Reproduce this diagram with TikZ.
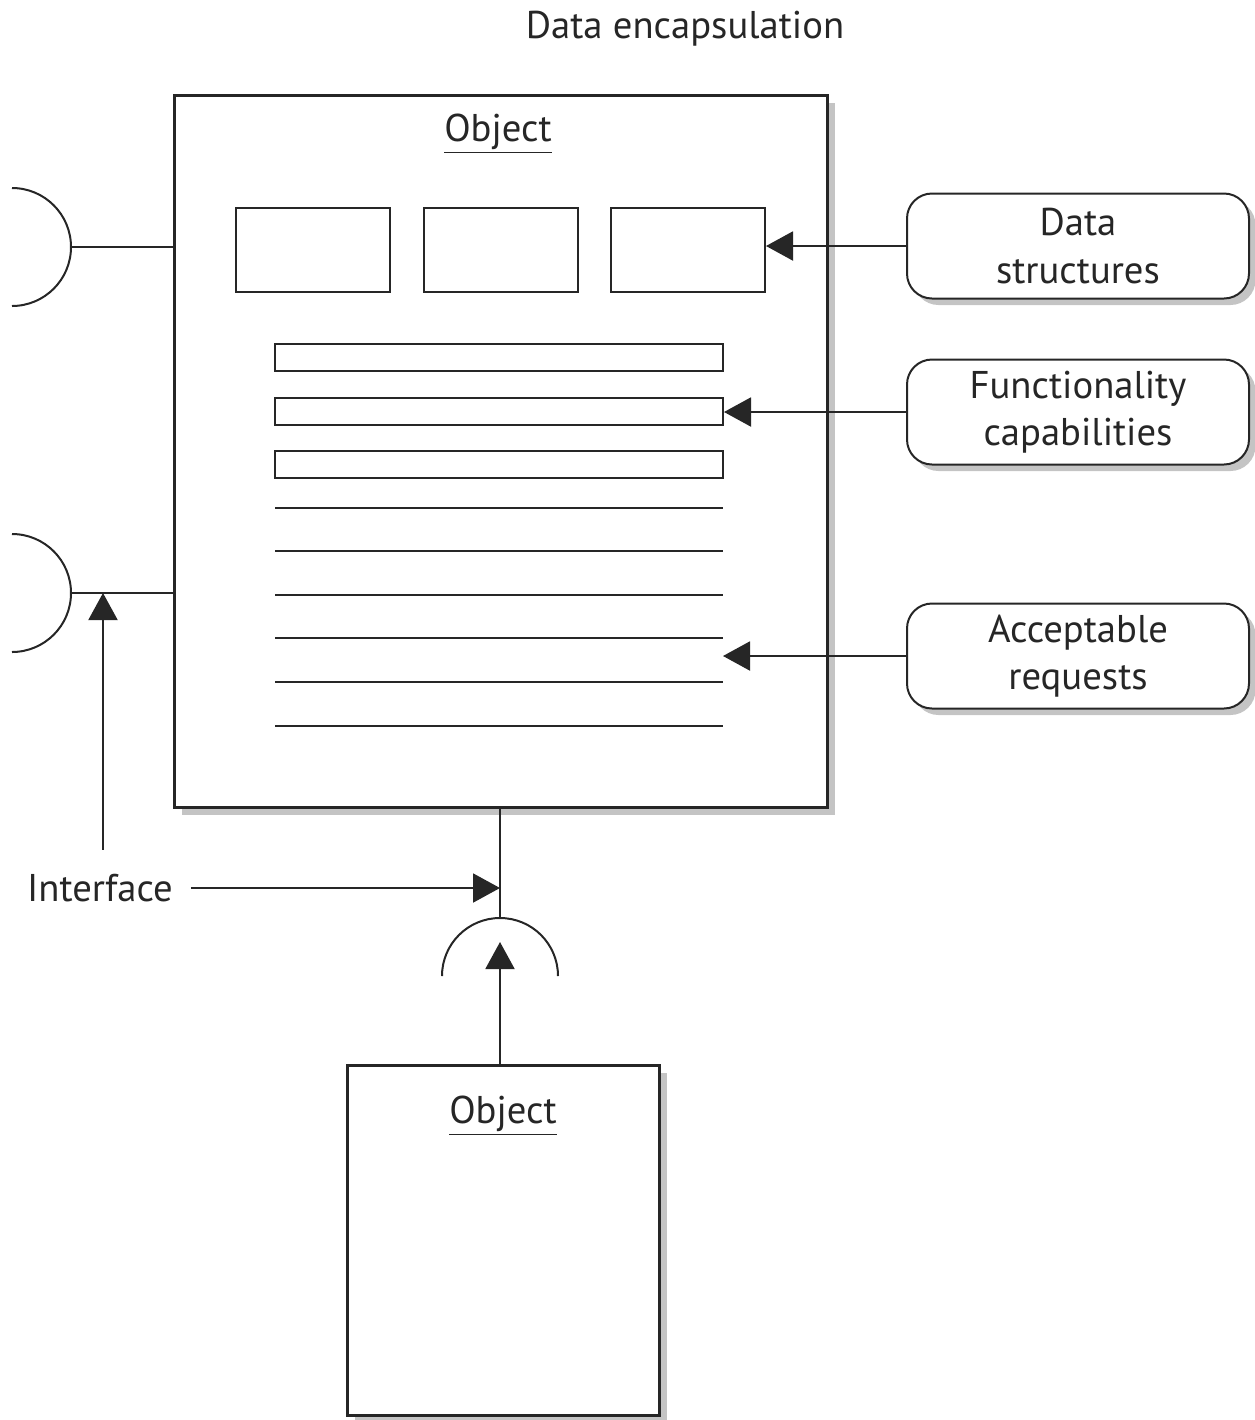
\documentclass[tikz,border=0pt]{standalone}
\usepackage{fontspec}
\setmainfont{PT Sans}
\usepackage{xcolor}
\usepackage{tikz}
\usetikzlibrary{positioning, arrows.meta, shadows}
\definecolor{ink}{HTML}{262626}
\definecolor{shade}{HTML}{c4c4c4}

\begin{document}
\begin{tikzpicture}[x=0.2mm, y=-0.2mm,
  every node/.style={font=\fontsize{22}{27}\selectfont, text=ink},
  objbox/.style={draw=ink, line width=0.6mm, fill=white, inner sep=0pt, drop shadow={shadow xshift=1.5mm, shadow yshift=-1.5mm, fill=shade, opacity=1}},
  slot/.style={draw=ink, line width=0.4mm, minimum width=30.8mm, minimum height=16.8mm, inner sep=0pt},
  bar/.style={draw=ink, line width=0.4mm, minimum width=89.6mm, minimum height=5.4mm, inner sep=0pt},
  tag/.style={draw=ink, line width=0.4mm, rounded corners=5mm, fill=white, minimum width=68.4mm, minimum height=21mm, align=center, inner sep=0pt, drop shadow={shadow xshift=1.3mm, shadow yshift=-1.3mm, fill=shade, opacity=1}},
  wire/.style={draw=ink, line width=0.4mm},
  arr/.style={wire, -{Triangle[length=5.4mm, width=5.8mm]}}]
\useasboundingbox (0,0) rectangle (1255,1420);
\node (title) at (685,29) {Data encapsulation};
\node[objbox, minimum width=130.4mm, minimum height=142.4mm] (objMain) at (501,451) {};
\node (objMainName) at (498,134) {\underline{Object}};
\foreach \x [count=\i] in {313,501,688}
{\node[slot] (slot\i) at (\x,250) {};}
\foreach \y [count=\i] in {357.5,411,464}
{\node[bar] (bar\i) at (499,\y) {};}
\foreach \y [count=\i] in {508,551,595,638,682,726}
{\draw[wire] (275,\y) coordinate (reqL\i) -- (723,\y) coordinate (reqR\i);}
\node[tag] (dsTag) at (1078,246) {Data\\structures};
\node[tag] (fcTag) at (1078,412) {Functionality\\capabilities};
\node[tag] (arTag) at (1078,656) {Acceptable\\requests};
\draw[arr] (dsTag.west) -- (dsTag.west -| slot3.east);
\draw[arr] (fcTag.west) -- (fcTag.west -| bar2.east);
\draw[arr] (arTag.west) -- (arTag.west -| reqR4);
\coordinate (sockA) at (71,247);
\coordinate (sockB) at (71,593);
\foreach \s in {sockA,sockB}
{\draw[wire] (\s) ++(-59,-59) arc[start angle=90, end angle=-90, radius=11.8mm];
\draw[wire] (\s) -- (\s -| objMain.west);}
\node (ifaceLabel) at (100,888) {Interface};
\coordinate (ifaceTip) at (103,593);
\draw[arr, shorten <=3.6mm] (ifaceLabel.north -| ifaceTip) -- (ifaceTip);
\coordinate (sockC) at (500,918);
\coordinate (sockCtip) at (500,942);
\draw[wire] (sockC) ++(-58,58) arc[start angle=180, end angle=0, radius=11.6mm];
\draw[wire] (objMain.south -| sockC) -- (sockC);
\draw[arr, shorten <=2.4mm] (ifaceLabel.east) -- (ifaceLabel.east -| sockC);
\node[objbox, minimum width=62.4mm, minimum height=70mm] (objSub) at (503,1240) {};
\node (objSubName) at (503,1116) {\underline{Object}};
\draw[arr] (objSub.north -| sockC) -- (sockCtip);
\end{tikzpicture}
\end{document}
